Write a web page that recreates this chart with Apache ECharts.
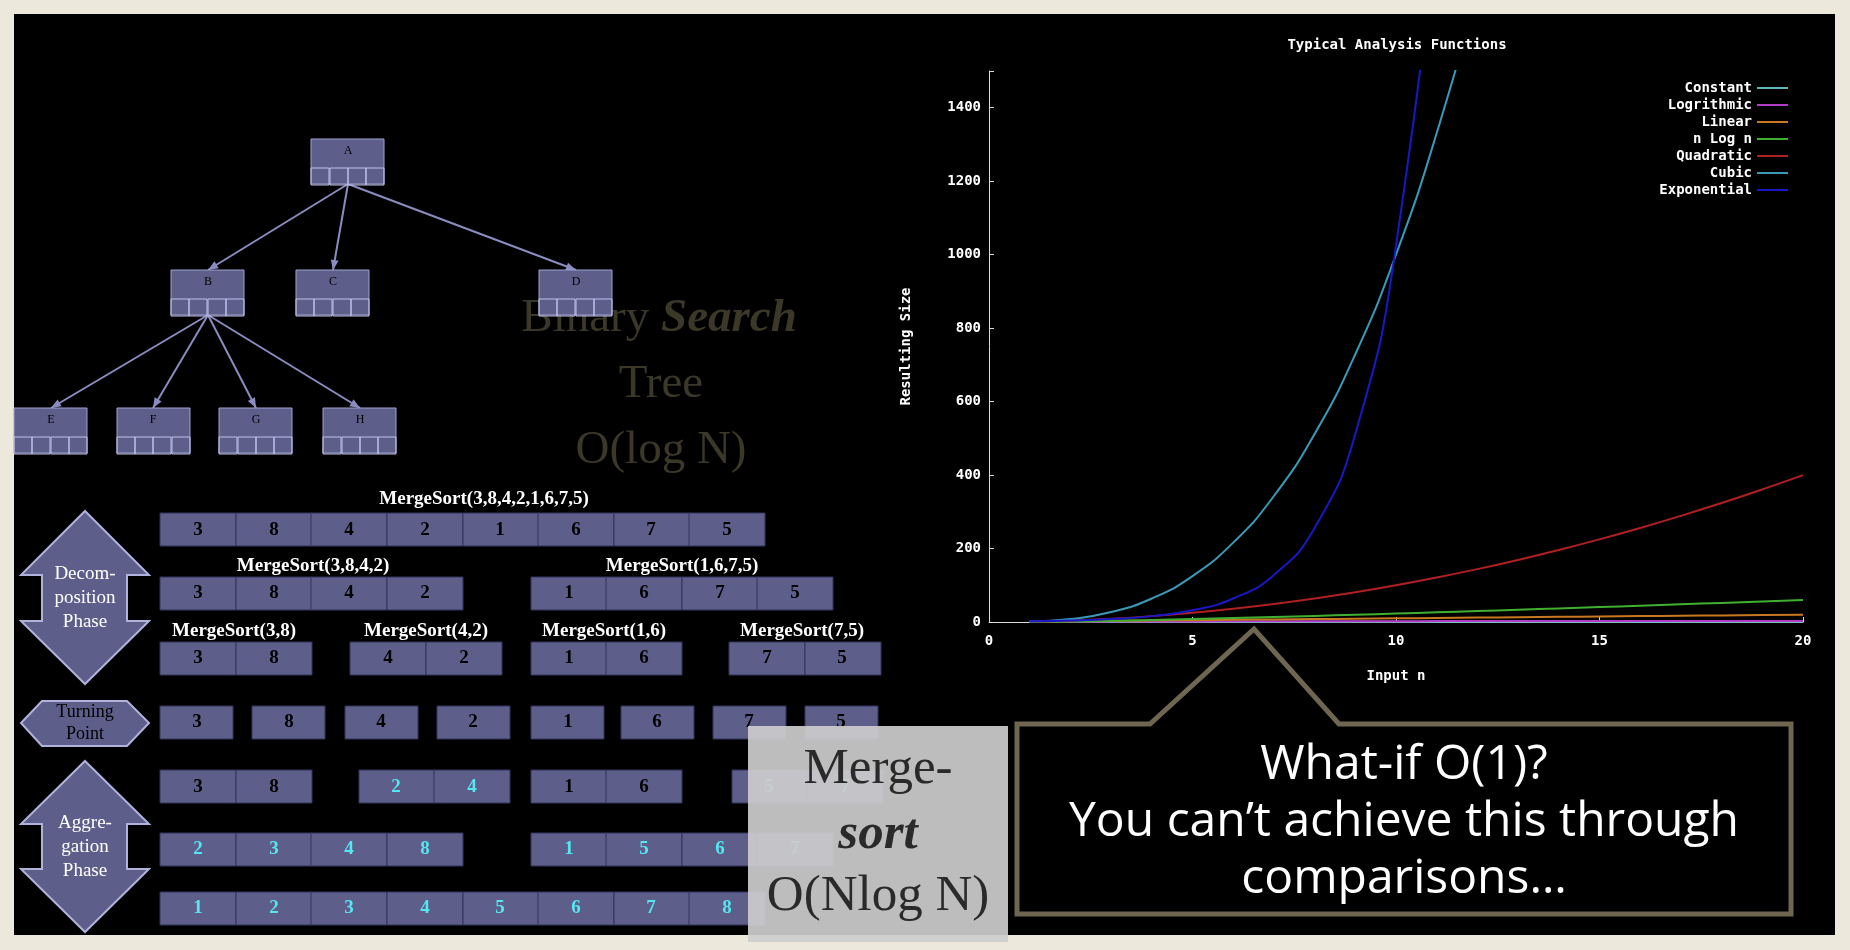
<!DOCTYPE html>
<html><head><meta charset="utf-8">
<script src="https://cdn.jsdelivr.net/npm/echarts@6/dist/echarts.min.js"></script>
<style>html,body{margin:0;padding:0;background:#ece9dc}#c{width:1850px;height:950px}</style>
</head><body><div id="c"></div>
<script>
// chart data (n = 1..20)
const inputN = [1,2,3,4,5,6,7,8,9,10,11,12,13,14,15,16,17,18,19,20];
const constantV = [1,1,1,1,1,1,1,1,1,1,1,1,1,1,1,1,1,1,1,1];
const logV = [0,0.7,1.1,1.4,1.6,1.8,1.9,2.1,2.2,2.3,2.4,2.5,2.6,2.6,2.7,2.8,2.8,2.9,2.9,3.0];
const linearV = [1,2,3,4,5,6,7,8,9,10,11,12,13,14,15,16,17,18,19,20];
const nlognV = [0,1.4,3.3,5.5,8,10.8,13.6,16.6,19.8,23,26.4,29.8,33.3,36.9,40.6,44.4,48.2,52,55.9,59.9];
const quadV = [1,4,9,16,25,36,49,64,81,100,121,144,169,196,225,256,289,324,361,400];
const cubicV = [1,8,27,64,125,216,343,512,729,1000,1331,1728,2197];
const expV = [2,4,8,16,32,64,128,256,512,1024,2048,4096];
const names = ['Constant','Logrithmic','Linear','n Log n','Quadratic','Cubic','Exponential'];
const colors = ['#5fb8b8','#b03cc8','#c87820','#40b030','#b02020','#3a9ab8','#1818c8'];
const allV = [constantV,logV,linearV,nlognV,quadV,cubicV,expV];
const yTicks = [0,200,400,600,800,1000,1200,1400];

const s = 1850/1568;
const P = v => Math.round(v*s);
const g = [];
const boxFill = '#5d5f8a';

// black slide panel
g.push({type:'rect',z:-10,shape:{x:P(12),y:P(12),width:P(1543),height:P(781)},style:{fill:'#000'}});

// tree
const nodes = {A:[264,118],B:[145,229],C:[251,229],D:[457,229],E:[12,346],F:[99,346],G:[186,346],H:[274,346]};
const edges = [['A','B'],['A','C'],['A','D'],['B','E'],['B','F'],['B','G'],['B','H']];
edges.forEach(([a,b])=>{
  const p=nodes[a],q=nodes[b];
  g.push({type:'line',shape:{x1:P(p[0]+31),y1:P(p[1]+38),x2:P(q[0]+31),y2:P(q[1])},style:{stroke:'#8a8cc0',lineWidth:2}});
  g.push({type:'polygon',shape:{points:(()=>{const x2=P(q[0]+31),y2=P(q[1]);const dx=x2-P(p[0]+31),dy=y2-P(p[1]+38);const L=Math.hypot(dx,dy),ux=dx/L,uy=dy/L;return [[x2,y2],[x2-ux*10-uy*4,y2-uy*10+ux*4],[x2-ux*10+uy*4,y2-uy*10-ux*4]];})()},style:{fill:'#8a8cc0'}});
});
Object.keys(nodes).forEach(k=>{
  const [x,y]=nodes[k];
  g.push({type:'rect',shape:{x:P(x),y:P(y),width:P(62),height:P(38)},style:{fill:boxFill,stroke:'#a0a2d0',lineWidth:1}});
  g.push({type:'text',style:{x:P(x+31),y:P(y+10),text:k,fill:'#000',font:'12px "Liberation Serif"',align:'center',verticalAlign:'middle'}});
  for(let i=0;i<4;i++) g.push({type:'rect',shape:{x:P(x+i*15.5),y:P(y+24),width:P(15.5),height:P(14)},style:{fill:'none',stroke:'#c0c2e8',lineWidth:1}});
});

// binary search tree caption (drawn behind the tree boxes)
[['Binary '],['Tree'],['O(log N)']].forEach((t,i)=>{
  const y=P(270+i*56);
  if(i===0){
    g.push({type:'text',z:-5,style:{x:P(560),y:y,text:'Binary ',fill:'#3b3828',font:'47px "Liberation Serif"',align:'right',verticalAlign:'middle'}});
    g.push({type:'text',z:-5,style:{x:P(560),y:y,text:'Search',fill:'#3b3828',font:'italic bold 47px "Liberation Serif"',align:'left',verticalAlign:'middle'}});
  } else g.push({type:'text',z:-5,style:{x:P(560),y:y,text:t[0],fill:'#3b3828',font:'47px "Liberation Serif"',align:'center',verticalAlign:'middle'}});
});

// merge sort rows
const W=64,H=28;
function row(x,y,vals,cyan,w){w=w||W;vals.forEach((v,i)=>{
  g.push({type:'rect',shape:{x:P(x+i*w),y:P(y),width:P(w),height:P(H)},style:{fill:boxFill,stroke:'#33355a',lineWidth:1}});
  g.push({type:'text',style:{x:P(x+i*w+w/2),y:P(y+H/2),text:String(v),fill:cyan?'#55e6f0':'#000',font:'bold 19px "Liberation Serif"',align:'center',verticalAlign:'middle'}});
});}
function lab(cx,y,t){g.push({type:'text',style:{x:P(cx),y:P(y),text:t,fill:'#fff',font:'bold 19px "Liberation Serif"',align:'center',verticalAlign:'middle'}});}
lab(410,423,'MergeSort(3,8,4,2,1,6,7,5)');row(136,435,[3,8,4,2,1,6,7,5]);
lab(265,480,'MergeSort(3,8,4,2)');lab(578,480,'MergeSort(1,6,7,5)');
row(136,489,[3,8,4,2]);row(450,489,[1,6,7,5]);
lab(198,535,'MergeSort(3,8)');lab(361,535,'MergeSort(4,2)');lab(512,535,'MergeSort(1,6)');lab(680,535,'MergeSort(7,5)');
row(136,544,[3,8]);row(297,544,[4,2]);row(450,544,[1,6]);row(618,544,[7,5]);
[[136,3],[214,8],[292,4],[370,2],[450,1],[526,6],[604,7],[682,5]].forEach(([x,v])=>row(x,598,[v],false,62));
row(136,653,[3,8]);row(304,653,[2,4],true);row(450,653,[1,6]);row(620,653,[5,7],true);
row(136,706,[2,3,4,8],true);row(450,706,[1,5,6,7],true);
row(136,756,[1,2,3,4,5,6,7,8],true);

// phase arrows
function dbl(y0,y1,t,fs){const head=Math.min(54,(y1-y0)/2.7);const pts=[[72,y0],[126,y0+head],[108,y0+head],[108,y1-head],[126,y1-head],[72,y1],[18,y1-head],[36,y1-head],[36,y0+head],[18,y0+head]].map(p=>[P(p[0]),P(p[1])]);
  g.push({type:'polygon',shape:{points:pts},style:{fill:boxFill,stroke:'#b0b2dc',lineWidth:2}});
  g.push({type:'text',style:{x:P(72),y:P((y0+y1)/2),text:t,fill:'#fff',font:fs+'px "Liberation Serif"',align:'center',verticalAlign:'middle',lineHeight:fs*1.25}});}
dbl(433,580,'Decom-\nposition\nPhase',19);
dbl(645,790,'Aggre-\ngation\nPhase',19);
g.push({type:'polygon',shape:{points:[[18,613],[36,594],[108,594],[126,613],[108,632],[36,632]].map(p=>[P(p[0]),P(p[1])])},style:{fill:boxFill,stroke:'#b0b2dc',lineWidth:2}});
g.push({type:'text',style:{x:P(72),y:P(613),text:'Turning\nPoint',fill:'#000',font:'18px "Liberation Serif"',align:'center',verticalAlign:'middle',lineHeight:22}});

// merge-sort grey box
g.push({type:'rect',z:50,shape:{x:P(634),y:P(615),width:P(220),height:P(183)},style:{fill:'rgba(205,205,205,0.92)'}});
g.push({type:'text',z:51,style:{x:P(744),y:P(653),text:'Merge-',fill:'#2a2a2a',font:'51px "Liberation Serif"',align:'center',verticalAlign:'middle'}});
g.push({type:'text',z:51,style:{x:P(744),y:P(708),text:'sort',fill:'#2a2a2a',font:'italic bold 51px "Liberation Serif"',align:'center',verticalAlign:'middle'}});
g.push({type:'text',z:51,style:{x:P(744),y:P(760),text:'O(Nlog N)',fill:'#2a2a2a',font:'51px "Liberation Serif"',align:'center',verticalAlign:'middle'}});

// callout
g.push({type:'polygon',z:50,shape:{points:[[862,614],[975,614],[1063,533],[1135,614],[1518,614],[1518,775],[862,775]].map(p=>[P(p[0]),P(p[1])])},style:{fill:'#000',stroke:'#6e6650',lineWidth:5}});
g.push({type:'text',z:51,style:{x:P(1190),y:P(697),text:'What-if O(1)?\nYou can\u2019t achieve this through\ncomparisons\u2026',fill:'#fff',font:'48px "Open Sans"',align:'center',verticalAlign:'middle',lineHeight:P(48)}});

const chart = echarts.init(document.getElementById('c'));
const mono = {color:'#fff',fontFamily:'DejaVu Sans Mono',fontWeight:'bold',fontSize:14};
chart.setOption({
  backgroundColor:'transparent',
  animation:false,
  title:{text:'Typical Analysis Functions',left:P(1180),top:P(28),textAlign:'center',textStyle:{...mono}},
  legend:{data:names,orient:'vertical',right:P(48),top:P(64),align:'right',itemGap:3,itemWidth:P(26),itemHeight:2,icon:'rect',textStyle:{...mono}},
  grid:{left:P(838),right:1850-P(1528),top:P(60),bottom:950-P(527)},
  xAxis:{type:'value',min:0,max:20,interval:5,name:'Input n',nameLocation:'middle',nameGap:P(40),nameTextStyle:{...mono},
    axisLine:{lineStyle:{color:'#ddd'}},axisTick:{inside:true,lineStyle:{color:'#ddd'}},splitLine:{show:false},axisLabel:{...mono,margin:12}},
  yAxis:{type:'value',min:0,max:1500,interval:200,name:'Resulting Size',nameLocation:'middle',nameGap:P(64),nameTextStyle:{...mono},
    axisLine:{show:true,lineStyle:{color:'#ddd'}},axisTick:{inside:true,lineStyle:{color:'#ddd'}},splitLine:{show:false},
    axisLabel:{...mono,formatter:v=>yTicks.includes(v)?String(v):''}},
  series: allV.map((vals,i)=>({name:names[i],type:'line',smooth:true,symbol:'none',clip:true,z:i,
    color:colors[i],lineStyle:{width:2,color:colors[i]},data:vals.map((v,j)=>[inputN[j],v])})),
  graphic:g
});
</script></body></html>
